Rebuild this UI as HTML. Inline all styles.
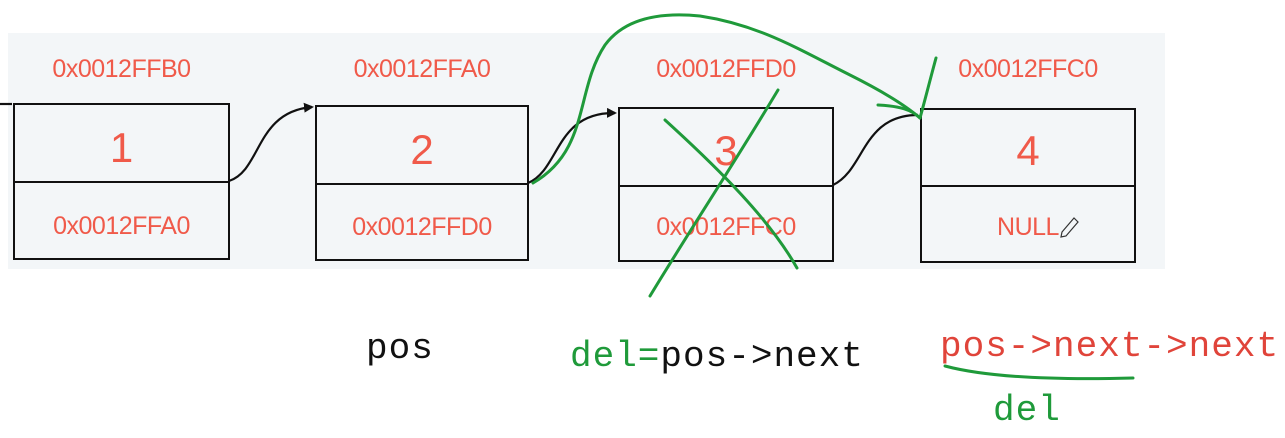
<!DOCTYPE html>
<html><head><meta charset="utf-8"><style>
html,body{margin:0;padding:0;background:#fff;}
body{width:1285px;height:438px;position:relative;overflow:hidden;font-family:"Liberation Sans",sans-serif;}
.panel{position:absolute;left:8px;top:33px;width:1157px;height:236px;background:#f3f6f8;}
.box{position:absolute;border:2px solid #111;box-sizing:border-box;}
.box .mid{position:absolute;left:0;right:0;border-top:2px solid #111;}
.t{position:absolute;color:#f05a4a;text-align:center;white-space:nowrap;}
.addr{font-size:25px;letter-spacing:-0.5px;}
.num{font-size:42px;}
.mono{position:absolute;font-family:"Liberation Mono",monospace;font-size:36px;letter-spacing:1px;white-space:nowrap;}
</style></head><body>
<div class="panel"></div>

<div class="t addr" style="left:14px;width:215px;top:55px">0x0012FFB0</div>
<div class="t addr" style="left:316px;width:212px;top:55px">0x0012FFA0</div>
<div class="t addr" style="left:619px;width:214px;top:55px">0x0012FFD0</div>
<div class="t addr" style="left:921px;width:214px;top:55px">0x0012FFC0</div>

<div class="box" style="left:13px;top:103px;width:217px;height:157px"><div class="mid" style="top:76px"></div></div>
<div class="box" style="left:315px;top:105px;width:214px;height:156px"><div class="mid" style="top:76px"></div></div>
<div class="box" style="left:618px;top:107px;width:216px;height:155px"><div class="mid" style="top:76px"></div></div>
<div class="box" style="left:920px;top:108px;width:216px;height:155px"><div class="mid" style="top:75px"></div></div>

<div class="t num" style="left:14px;width:215px;top:124px">1</div>
<div class="t num" style="left:316px;width:212px;top:126px">2</div>
<div class="t num" style="left:619px;width:214px;top:127px">3</div>
<div class="t num" style="left:921px;width:214px;top:127px">4</div>

<div class="t addr" style="left:14px;width:215px;top:212px">0x0012FFA0</div>
<div class="t addr" style="left:316px;width:212px;top:213px">0x0012FFD0</div>
<div class="t addr" style="left:619px;width:214px;top:213px">0x0012FFC0</div>
<div class="t addr" style="left:921px;width:214px;top:213px">NULL</div>

<svg width="1285" height="438" style="position:absolute;left:0;top:0">
<defs><marker id="a" markerWidth="10" markerHeight="10" refX="8" refY="5" orient="auto" markerUnits="userSpaceOnUse"><path d="M0,0 L10,5 L0,10 z" fill="#111"/></marker></defs>
<g fill="none" stroke="#111" stroke-width="2.2">
<path d="M229,181 C262,170 255,112 312,107" marker-end="url(#a)"/>
<path d="M528,183 C560,170 555,112 615,113" marker-end="url(#a)"/>
<path d="M833,185 C865,170 862,115 918,115"/>
<path d="M0,104 L12,104"/>
</g>
<g fill="none" stroke="#1f9a3a" stroke-width="3" stroke-linecap="round">
<path d="M533,183 C590,150 575,90 605,45 C625,18 660,12 700,16 C760,25 800,50 850,75 C880,90 905,105 920,118"/>
<path d="M936,58 C930,80 925,100 920,118"/>
<path d="M878,105 C900,106 912,110 920,118"/>
<path d="M778,90 C730,170 690,230 650,296"/>
<path d="M665,120 C720,170 770,220 797,268"/>
<path d="M945,366 C990,378 1060,380 1133,378"/>
</g>
<path d="M1062,232 L1074,218 L1078,222 L1066,236 L1061,237 z" fill="none" stroke="#333" stroke-width="1.2"/>
</svg>

<div class="mono" style="left:366px;top:328px;color:#111">pos</div>
<div class="mono" style="left:570px;top:336px;color:#111"><span style="color:#1f9a3a">del=</span>pos-&gt;next</div>
<div class="mono" style="left:940px;top:326px;color:#e0443a">pos-&gt;next-&gt;next</div>
<div class="mono" style="left:993px;top:390px;color:#1f9a3a">del</div>
</body></html>
